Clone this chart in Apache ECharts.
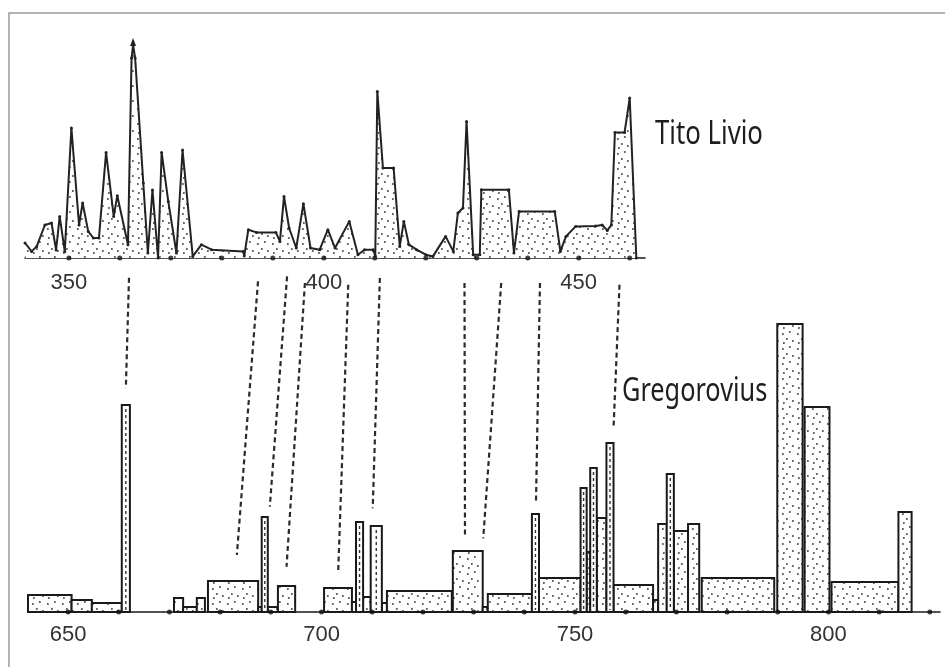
<!DOCTYPE html>
<html>
<head>
<meta charset="utf-8">
<script src="https://cdn.jsdelivr.net/npm/echarts@6/dist/echarts.min.js"></script>
<style>
html, body { margin: 0; padding: 0; background: #fff; }
#chart { width: 945px; height: 667px; }
</style>
</head>
<body>
<div id="chart"></div>
<script>
// Tito Livio: frequency profile by year (year, value)
const livioPoints = [
  [341.4,15],[342.7,6.6],[343.7,11.6],[345.3,33],[346.6,35],[347.5,8],[348.2,41.6],[349.2,6.6],
  [350.5,130],[352,33],[352.7,55],[353.8,26.6],[354.8,20],[355.9,20],[357.3,105.6],[358.8,41.6],
  [359.5,62.3],[361.6,13.3],[362.3,200],[362.6,213],[363.0,200],[364.6,75],[365.5,5],[366.4,68],
  [367.5,0],[368.2,105.6],[369.5,56.6],[371.1,5],[372.3,108],[374.3,1.6],[376,13.3],[378,8.3],
  [384.2,6.6],[384.4,2],[385.2,28.3],[386.8,25.6],[390.6,25.6],[391.4,16.6],[392.2,61.6],[393.2,30],
  [394.6,10],[396,54.3],[397.4,10],[399.2,8.3],[400.8,28.3],[402.2,10],[405,36.6],[406.7,3.3],
  [408,8.3],[409.7,8.3],[410.1,2],[410.5,166.6],[411.6,90],[413.7,90],[414.9,11.6],[415.7,36.6],
  [416.7,13.3],[418.2,8.3],[420,3.3],[421.4,1.6],[423.9,21.6],[425.4,6.6],[426.3,45],[427.3,50],
  [428,136.6],[429.3,3.3],[430.6,3.3],[430.9,68.3],[436.3,68.3],[437.3,5],[438.3,46.6],[445.3,46.6],
  [446.4,6.6],[447.5,21.6],[449.4,31.6],[453.3,32],[454.6,33],[455.6,27.6],[456.4,33],[457.1,125.6],
  [459,125.6],[460,160],[461.3,0]
];

// Gregorovius: spans of years [start, end, value]
const gregSpans = [
  [642.1,650.7,17],[650.7,654.7,12],[654.7,660.6,9],
  [670.9,672.7,14],[672.7,675.4,5],[675.4,677,14],[677.6,687.5,31],[687.5,688.2,5],
  [689.4,691.4,5],[691.4,694.8,26],
  [700.5,706,24],[706,706.8,10],[708.2,709.7,15],[711.9,712.9,9],[712.9,725.7,21],
  [725.9,731.8,61],[731.8,732.8,5],[732.8,741.5,18],[742.9,751.1,34],[752.3,753,60],
  [754.3,756.2,94],[757.6,765.4,27],[765.4,766.4,12],[766.4,768.1,88],[769.5,772.3,81],
  [772.3,774.5,88],[775,789.3,34],[789.9,794.9,288],[795.3,800.2,205],[800.6,813.8,30],
  [813.8,816.4,100]
];

// Gregorovius: single-year peaks [start, end, value]
const gregPeaks = [
  [660.6,662.2,207],[688.2,689.4,95],[706.8,708.2,90],[709.7,711.9,86],[741.5,742.9,98],
  [751.1,752.3,124],[753,754.3,144],[756.2,757.6,169],[768.1,769.5,138]
];

// Correspondences: [Livio year, Livio level, Gregorovius year, Gregorovius level]
const links = [
  [361.8,-19.7,661.4,223.7],
  [387.1,-23.4,683.3,57],
  [392.8,-18.4,689.8,105.3],
  [396.3,-25,693.1,45.3],
  [404.8,-26.7,703.3,42],
  [411.0,-20,710.1,103.7],
  [427.6,-25,728.3,75.3],
  [434.8,-25,731.9,73.7],
  [442.4,-25,742.3,109],
  [458.0,-26.7,757.6,183.7]
];

const livioTicks = [350,360,370,380,390,400,410,420,430,440,450,460];
const livioLabels = [350,400,450];
const gregTicks = [650,660,670,680,690,700,710,720,730,740,750,760,770,780,790,800,810,820];
const gregLabels = [650,700,750,800];

// Stippled fill used by the shaded areas
function dotCanvas() {
  const c = document.createElement('canvas');
  c.width = 15; c.height = 15;
  const g = c.getContext('2d');
  g.fillStyle = '#fff';
  g.fillRect(0, 0, 15, 15);
  g.fillStyle = '#4a4a4a';
  [[2,3],[9,1],[6,8],[12,10],[3,12]].forEach(function (d) {
    g.beginPath(); g.arc(d[0] + 0.9, d[1] + 0.9, 1.0, 0, Math.PI * 2); g.fill();
  });
  return c;
}
const dots = { image: dotCanvas(), repeat: 'repeat' };

function spanItem(params, api) {
  const a = api.coord([api.value(0), api.value(2)]);
  const b = api.coord([api.value(1), 0]);
  return {
    type: 'rect',
    shape: { x: a[0], y: a[1], width: b[0] - a[0], height: b[1] - a[1] },
    style: { fill: dots, stroke: '#1a1a1a', lineWidth: 2 }
  };
}

function peakItem(params, api) {
  const a = api.coord([api.value(0), api.value(2)]);
  const b = api.coord([api.value(1), 0]);
  const cx = (a[0] + b[0]) / 2;
  return {
    type: 'group',
    children: [
      { type: 'rect', shape: { x: a[0], y: a[1], width: b[0] - a[0], height: b[1] - a[1] },
        style: { fill: '#fff', stroke: '#1a1a1a', lineWidth: 2 } },
      { type: 'line', shape: { x1: cx, y1: a[1] + 4, x2: cx, y2: b[1] - 2 },
        style: { stroke: '#333', lineWidth: 1.4, lineDash: [3, 3] } }
    ]
  };
}

const axisFont = { color: '#333', fontSize: 22, fontFamily: 'Liberation Sans, Arial, sans-serif' };

const chart = echarts.init(document.getElementById('chart'), null, { renderer: 'canvas' });

chart.setOption({
  animation: false,
  backgroundColor: '#fff',
  grid: [
    { left: 25, top: 38, width: 620, height: 220 },
    { left: 28, top: 312, width: 912, height: 300 }
  ],
  xAxis: [
    { type: 'value', gridIndex: 0, min: 341.4, max: 463,
      splitLine: { show: false },
      axisLine: { show: true, onZero: false, lineStyle: { color: '#1a1a1a', width: 1.6 } },
      axisTick: { show: false },
      axisLabel: Object.assign({ customValues: livioLabels, margin: 14 }, axisFont) },
    { type: 'value', gridIndex: 1, min: 642.1, max: 822,
      splitLine: { show: false },
      axisLine: { show: true, onZero: false, lineStyle: { color: '#1a1a1a', width: 1.6 } },
      axisTick: { show: false },
      axisLabel: Object.assign({ customValues: gregLabels, margin: 12 }, axisFont) }
  ],
  yAxis: [
    { type: 'value', gridIndex: 0, min: 0, max: 220, show: false },
    { type: 'value', gridIndex: 1, min: 0, max: 300, show: false }
  ],
  series: [
    {
      name: 'Tito Livio', type: 'line', xAxisIndex: 0, yAxisIndex: 0,
      data: livioPoints,
      symbol: 'circle', symbolSize: 3, showSymbol: true,
      itemStyle: { color: '#222' },
      lineStyle: { color: '#222', width: 2 },
      areaStyle: { color: dots, opacity: 1 },
      markPoint: {
        symbol: 'triangle', symbolSize: [6, 8], symbolOffset: [0, -3],
        itemStyle: { color: '#222' }, label: { show: false },
        data: [{ type: 'max' }]
      },
      z: 2
    },
    {
      type: 'scatter', xAxisIndex: 0, yAxisIndex: 0,
      data: livioTicks.map(function (t) { return [t, 0]; }),
      symbolSize: 5, itemStyle: { color: '#111' }, z: 5
    },
    {
      name: 'Gregorovius', type: 'custom', xAxisIndex: 1, yAxisIndex: 1,
      data: gregSpans, renderItem: spanItem,
      encode: { x: [0, 1], y: 2 }, z: 2
    },
    {
      type: 'custom', xAxisIndex: 1, yAxisIndex: 1,
      data: gregPeaks, renderItem: peakItem,
      encode: { x: [0, 1], y: 2 }, z: 3
    },
    {
      type: 'scatter', xAxisIndex: 1, yAxisIndex: 1,
      data: gregTicks.map(function (t) { return [t, 0]; }),
      symbolSize: 5, itemStyle: { color: '#111' }, z: 5
    }
  ]
});

// Dashed correspondence lines, placed through both coordinate systems
const linkShapes = links.map(function (l) {
  const p = chart.convertToPixel({ xAxisIndex: 0, yAxisIndex: 0 }, [l[0], l[1]]);
  const q = chart.convertToPixel({ xAxisIndex: 1, yAxisIndex: 1 }, [l[2], l[3]]);
  return {
    type: 'line',
    shape: { x1: p[0], y1: p[1], x2: q[0], y2: q[1] },
    style: { stroke: '#2a2a2a', lineWidth: 2.2, lineDash: [5, 3.5] },
    z: 1
  };
});

chart.setOption({
  graphic: [
    { type: 'rect', shape: { x: 9, y: 13, width: 945, height: 670 },
      style: { fill: null, stroke: '#9a9a9a', lineWidth: 1.5 }, z: 0, silent: true },
    { type: 'text', x: 655, y: 118, scaleX: 0.78,
      style: { text: 'Tito Livio', fill: '#1e1e1e', font: '33px "Noto Sans", "Open Sans", sans-serif' }, z: 10 },
    { type: 'text', x: 622, y: 376, scaleX: 0.79,
      style: { text: 'Gregorovius', fill: '#1e1e1e', font: '32px "Noto Sans", "Open Sans", sans-serif' }, z: 10 }
  ].concat(linkShapes)
});
</script>
</body>
</html>
